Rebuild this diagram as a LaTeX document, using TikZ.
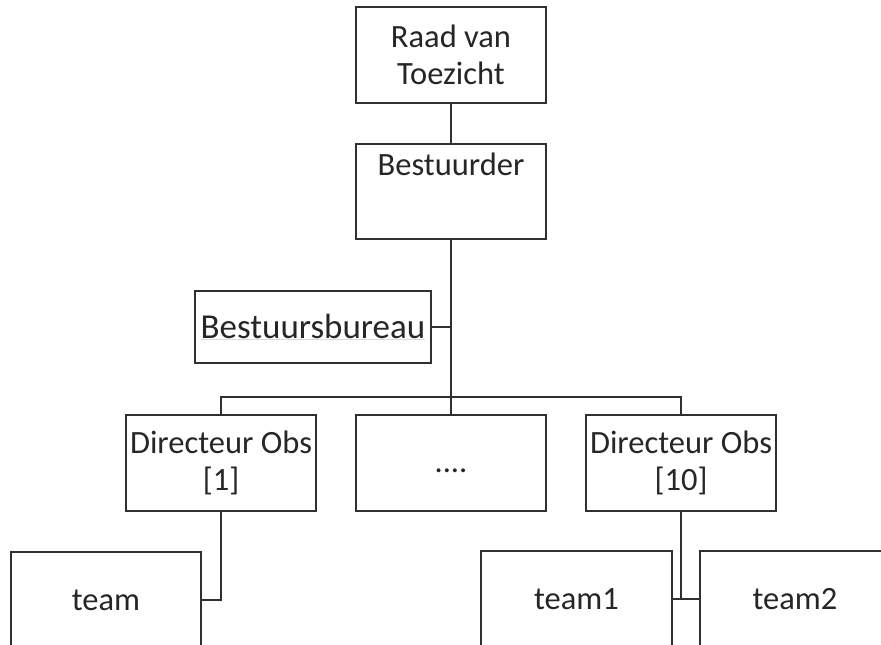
\documentclass[tikz,border=0pt]{standalone}
\usepackage{fontspec}
\setmainfont{Carlito}
\definecolor{ln}{HTML}{303030}
\definecolor{txt}{HTML}{262626}
\begin{document}
\begin{tikzpicture}[x=1pt,y=-1pt,
  box/.style={draw=ln, line width=1.8pt, rectangle, inner sep=0pt, align=center,
    minimum width=190pt, minimum height=96pt, text=txt,
    font=\fontsize{32.5}{37}\selectfont},
  conn/.style={draw=ln, line width=1.8pt}]
\useasboundingbox (0,0) rectangle (881,645);
\clip (0,0) rectangle (881,645);
\fill[white] (0,0) rectangle (881,645);

\node[box] (raad) at (451,55) {Raad van\\Toezicht};
\node[box, minimum height=95pt,
  label={[label distance=-33pt, inner sep=0pt, text depth=0pt, text=txt,
          font=\fontsize{32.5}{37}\selectfont]north:Bestuurder}] (best) at (451,191.5) {};
\node[box, minimum width=236pt, minimum height=72pt, font=\fontsize{35}{40}\selectfont] (bureau) at (313,327)
  {\textcolor{gray!30}{\underline{\textcolor{txt}{Bestuursbureau}}}};
\node[box] (dir1) at (221,463) {Directeur Obs\\{[1]}};
\node[box] (mid) at (451,463) {\smash{\raisebox{-9pt}{....}}};
\node[box] (dir10) at (681,463) {Directeur Obs\\{[10]}};
\node[box] (team) at (106,600) {team};
\node[box, minimum width=191pt] (team1) at (576.5,599) {team1};
\node[box] (team2) at (795,599) {team2};

\coordinate (bus) at (451,397);
\draw[conn] (raad.south) -- (best.north);
\draw[conn] (best.south) -- (bus);
\draw[conn] (bureau.east) -- (bureau.east -| best.south);
\draw[conn] (dir1.north) |- (bus) -| (dir10.north);
\draw[conn] (mid.north) -- (bus);
\draw[conn] (dir1.south) |- (team.east);
\draw[conn] (dir10.south) |- (team1.east);
\draw[conn] (team1.east) -- (team2.west);
\end{tikzpicture}
\end{document}
